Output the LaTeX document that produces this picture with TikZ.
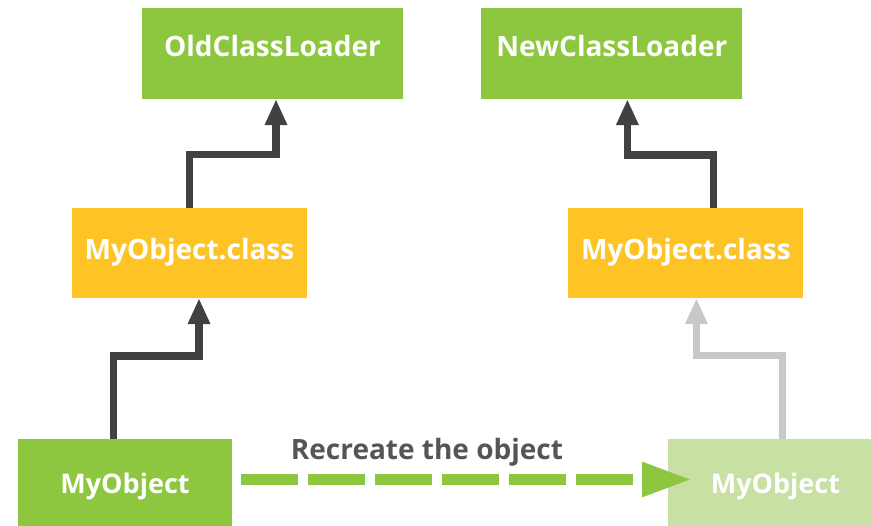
\documentclass[tikz,border=0pt]{standalone}
\usepackage{fontspec}
\setmainfont{Open Sans}
\usetikzlibrary{positioning, arrows.meta}

\definecolor{leafgreen}{HTML}{8DC63F}
\definecolor{sunyellow}{HTML}{FEC325}
\definecolor{palegreen}{HTML}{C9E0A4}
\definecolor{darkline}{HTML}{414042}
\definecolor{fadedline}{HTML}{C8C8C8}
\definecolor{labelgray}{HTML}{555557}

\begin{document}
\begin{tikzpicture}[x=1pt, y=-1pt, node distance = 109pt and 78pt,
box/.style= {rectangle, inner sep=0pt, text=white, font=\bfseries\fontsize{28}{30}\selectfont, text height=21pt, text depth=7pt},
loader/.style= {box, fill=leafgreen, minimum width=261pt, minimum height=91pt, text depth=14pt},
cls/.style= {box, fill=sunyellow, minimum width=235pt, minimum height=90pt},
obj/.style= {box, fill=leafgreen, minimum width=214pt, minimum height=96pt, font=\bfseries\fontsize{27}{30}\selectfont},
link/.style= {line width=7.5pt, draw=darkline, -{Triangle[width=21pt, length=26pt]}},
dashlink/.style= {line width=11pt, draw=leafgreen, dash pattern=on 57pt off 10pt, -{Triangle[width=32pt, length=50pt]}} ]
\useasboundingbox (0,0) rectangle (871,526);
% loaders on top, classes below, objects at the bottom
\node (old) [loader] at (272.5,53.5) {OldClassLoader};
\node (new) [loader, right = of old] {NewClassLoader};
\node (clsA) [cls] at (189.5,253) {MyObject.class};
\node (clsB) [cls, right = 261pt of clsA] {MyObject.class};
\node (objA) [obj] at (125,487) {MyObject};
\node (objB) [obj, fill=palegreen, right = 436pt of objA] {MyObject};
% elbow links
\draw[link] ([xshift=-11.5pt]objA.north) -- ++(0,-83) -| ([xshift=9.5pt]clsA.south);
\draw[link] (clsA.north) -- ++(0,-53.5) -| ([xshift=3.5pt]old.south);
\draw[link] ([xshift=27.5pt]clsB.north) -- ++(0,-53) -| ([xshift=15.5pt]new.south);
\draw[link, draw=fadedline] ([xshift=7pt]objB.north) -- ++(0,-83.5) -| ([xshift=10.5pt]clsB.south);
% recreate step
\draw[dashlink] ([xshift=9pt, yshift=7.5pt]objA.east) -- ([xshift=24pt, yshift=7.5pt]objB.west);
\node (redo) [font=\bfseries\fontsize{28}{30}\selectfont, text=labelgray, inner sep=0pt] at (427,452) {Recreate the object};
\end{tikzpicture}
\end{document}
